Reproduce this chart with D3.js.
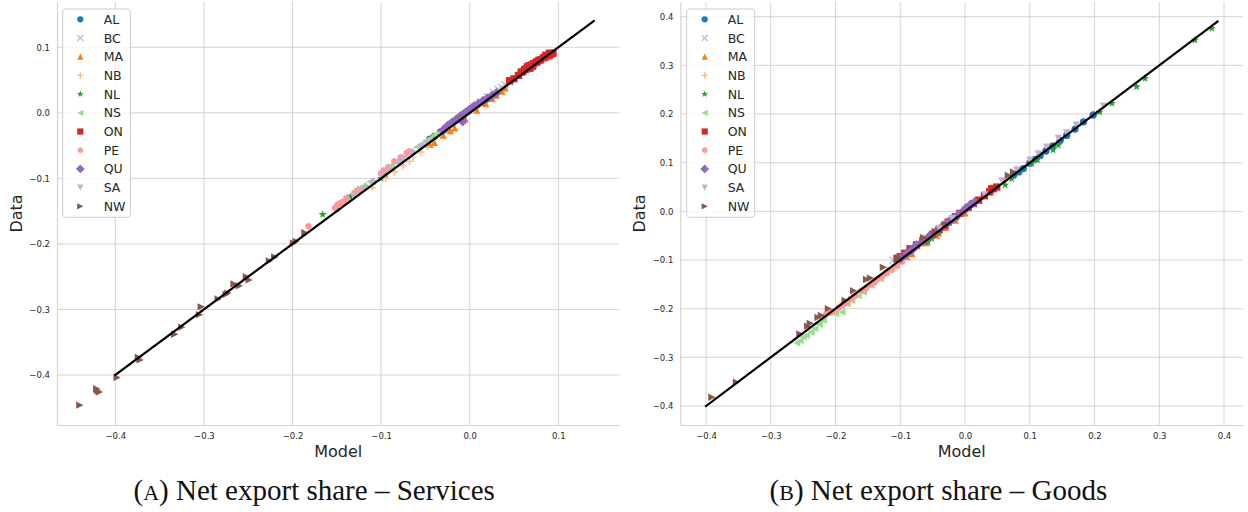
<!DOCTYPE html>
<html>
<head>
<meta charset="utf-8">
<script src="https://cdn.jsdelivr.net/npm/d3@7"></script>
<style>
  body { margin: 0; background: #ffffff; }
  svg { display: block; }
</style>
</head>
<body>
<svg id="fig" width="1248" height="512"></svg>
<script>
// Provinces, colours (tab20) and marker shapes, in legend order
const provinces = ["AL", "BC", "MA", "NB", "NL", "NS", "ON", "PE", "QU", "SA", "NW"];
const colors = ["#1f77b4", "#aec7e8", "#ff7f0e", "#ffbb78", "#2ca02c", "#98df8a",
                "#d62728", "#ff9896", "#9467bd", "#c5b0d5", "#8c564b"];
const markers = ["o", "x", "^", "+", "*", "<", "s", "h", "D", "v", ">"];

// Services: [model, data] pairs per province
const svcAL = [[-0.045,-0.040],[-0.040,-0.036],[-0.033,-0.029],[-0.028,-0.024],[-0.021,-0.016],
               [-0.015,-0.011],[-0.010,-0.005],[-0.005,0.000],[0.000,0.005],[0.004,0.008]];
const svcBC = [[0.005,0.009],[0.012,0.016],[0.020,0.024],[0.027,0.031],[0.032,0.036],
               [0.036,0.039],[0.040,0.043],[0.045,0.047]];
const svcMA = [[-0.045,-0.048],[-0.040,-0.045],[-0.030,-0.034],[-0.022,-0.027],[-0.017,-0.023],
               [-0.005,-0.009],[0.008,0.004],[0.018,0.014],[0.025,0.022],[0.030,0.027],
               [0.036,0.033],[0.040,0.038]];
const svcNB = [[-0.110,-0.114],[-0.095,-0.100],[-0.085,-0.090],[-0.075,-0.081],[-0.068,-0.074],
               [-0.064,-0.068],[-0.055,-0.060],[-0.048,-0.052]];
const svcNL = [[-0.166,-0.155],[-0.150,-0.147],[-0.138,-0.130],[-0.135,-0.128],[-0.126,-0.117],
               [-0.118,-0.112],[-0.109,-0.105],[-0.100,-0.100],[-0.095,-0.094]];
const svcNS = [[-0.120,-0.113],[-0.113,-0.105],[-0.095,-0.088],[-0.088,-0.080],[-0.080,-0.072],
               [-0.073,-0.065],[-0.067,-0.059],[-0.060,-0.052],[-0.055,-0.048],[-0.050,-0.043],
               [-0.045,-0.039],[-0.040,-0.034],[-0.035,-0.030],[-0.030,-0.026]];
const svcON = [[0.045,0.049],[0.050,0.052],[0.055,0.057],[0.058,0.062],[0.060,0.063],
               [0.062,0.066],[0.065,0.070],[0.067,0.072],[0.068,0.068],[0.070,0.073],
               [0.072,0.075],[0.075,0.077],[0.078,0.080],[0.080,0.081],[0.083,0.084],
               [0.085,0.085],[0.088,0.087],[0.090,0.088],[0.092,0.090],[0.094,0.091],
               [0.064,0.067],[0.071,0.071],[0.076,0.078],[0.086,0.088],[0.090,0.091]];
const svcPE = [[-0.182,-0.173],[-0.152,-0.145],[-0.149,-0.140],[-0.145,-0.137],[-0.139,-0.130],
               [-0.130,-0.122],[-0.125,-0.118],[-0.100,-0.092],[-0.092,-0.083],[-0.085,-0.074],
               [-0.078,-0.068],[-0.071,-0.061],[-0.068,-0.059],[-0.142,-0.135],[-0.097,-0.088]];
const svcQU = [[-0.030,-0.027],[-0.025,-0.020],[-0.020,-0.015],[-0.015,-0.010],[-0.010,-0.005],
               [-0.008,-0.013],[-0.005,0.000],[0.000,0.005],[0.005,0.010],[0.010,0.014],
               [0.015,0.018],[0.020,0.022],[0.025,0.026],[0.030,0.030]];
const svcSA = [[-0.130,-0.127],[-0.120,-0.116],[-0.110,-0.108],[-0.100,-0.097],[-0.090,-0.088],
               [-0.080,-0.078],[-0.075,-0.072],[-0.065,-0.063],[-0.055,-0.053],[-0.048,-0.047]];
const svcNW = [[-0.440,-0.446],[-0.420,-0.424],[-0.421,-0.421],[-0.418,-0.426],[-0.398,-0.404],
               [-0.372,-0.377],[-0.374,-0.373],[-0.333,-0.338],[-0.325,-0.327],[-0.305,-0.308],
               [-0.303,-0.296],[-0.284,-0.284],[-0.275,-0.277],[-0.273,-0.275],[-0.266,-0.261],
               [-0.260,-0.264],[-0.252,-0.250],[-0.249,-0.255],[-0.226,-0.226],[-0.220,-0.220],
               [-0.199,-0.199],[-0.196,-0.196],[-0.186,-0.183]];

// Goods: [model, data] pairs per province
const gdsAL = [[0.075,0.074],[0.083,0.081],[0.090,0.088],[0.100,0.099],[0.108,0.107],
               [0.116,0.115],[0.125,0.124],[0.135,0.134],[0.147,0.146],[0.157,0.156],
               [0.170,0.169],[0.183,0.184],[0.198,0.198]];
const gdsBC = [[-0.111,-0.101],[-0.105,-0.098],[-0.060,-0.055],[-0.030,-0.027],[0.000,0.004]];
const gdsMA = [[-0.090,-0.093],[-0.082,-0.087],[-0.060,-0.064],[-0.044,-0.049],[-0.030,-0.033],
               [-0.015,-0.018],[0.000,-0.003]];
const gdsNB = [[-0.190,-0.188],[-0.175,-0.176],[-0.140,-0.142],[-0.120,-0.122],[-0.090,-0.090],
               [-0.070,-0.072]];
const gdsNL = [[-0.057,-0.063],[-0.051,-0.056],[-0.040,-0.046],[0.062,0.054],[0.072,0.067],
               [0.103,0.098],[0.112,0.106],[0.136,0.126],[0.144,0.136],[0.208,0.204],
               [0.227,0.222],[0.265,0.256],[0.278,0.273],[0.355,0.352],[0.381,0.376]];
const gdsNS = [[-0.260,-0.270],[-0.255,-0.266],[-0.250,-0.258],[-0.245,-0.255],[-0.238,-0.248],
               [-0.232,-0.241],[-0.225,-0.232],[-0.219,-0.224],[-0.200,-0.210],[-0.190,-0.207],
               [-0.182,-0.190],[-0.175,-0.183],[-0.165,-0.173],[-0.157,-0.166],[-0.145,-0.152],
               [-0.131,-0.139]];
const gdsON = [[-0.105,-0.097],[-0.100,-0.093],[-0.093,-0.086],[-0.085,-0.077],[-0.075,-0.069],
               [-0.065,-0.060],[-0.050,-0.047],[-0.040,-0.037],[-0.031,-0.029],[-0.026,-0.022],
               [-0.015,-0.011],[-0.008,-0.004],[0.005,0.008],[0.013,0.016],[0.021,0.023],
               [0.030,0.032],[0.038,0.040],[0.044,0.047],[0.049,0.050],[0.041,0.046]];
const gdsPE = [[-0.215,-0.212],[-0.208,-0.208],[-0.203,-0.205],[-0.195,-0.198],[-0.188,-0.192],
               [-0.183,-0.187],[-0.176,-0.180],[-0.170,-0.174],[-0.160,-0.163],[-0.153,-0.158],
               [-0.147,-0.151],[-0.140,-0.146],[-0.135,-0.139],[-0.128,-0.133],[-0.121,-0.127],
               [-0.113,-0.120],[-0.105,-0.112],[-0.097,-0.103]];
const gdsQU = [[-0.100,-0.097],[-0.090,-0.087],[-0.082,-0.079],[-0.075,-0.070],[-0.065,-0.061],
               [-0.055,-0.051],[-0.045,-0.042],[-0.035,-0.031],[-0.025,-0.021],[-0.018,-0.015],
               [-0.010,-0.007],[0.000,0.004],[0.008,0.013],[0.015,0.019]];
const gdsSA = [[-0.040,-0.035],[-0.020,-0.015],[0.030,0.034],[0.057,0.062],[0.059,0.062],
               [0.080,0.085],[0.100,0.105],[0.113,0.118],[0.126,0.132],[0.144,0.150],
               [0.157,0.161],[0.172,0.177],[0.214,0.216]];
const gdsNW = [[-0.391,-0.382],[-0.353,-0.351],[-0.255,-0.252],[-0.243,-0.236],[-0.239,-0.230],
               [-0.227,-0.218],[-0.222,-0.214],[-0.211,-0.200],[-0.185,-0.183],[-0.172,-0.163],
               [-0.152,-0.140],[-0.146,-0.137],[-0.126,-0.115],[-0.103,-0.095],[-0.064,-0.054],
               [-0.046,-0.041],[-0.030,-0.027],[0.067,0.074],[0.075,0.081]];

// 45-degree reference line extents
const svcLine = [-0.4, 0.14];
const gdsLine = [-0.4, 0.39];

// Axis limits and tick values
const svcXLim = [-0.4658, 0.1688];
const svcYLim = [-0.4763, 0.1691];
const gdsXLim = [-0.4397, 0.4293];
const gdsYLim = [-0.4390, 0.4302];
const svcTicks = [-0.4, -0.3, -0.2, -0.1, 0.0, 0.1];
const gdsTicks = [-0.4, -0.3, -0.2, -0.1, 0.0, 0.1, 0.2, 0.3, 0.4];

// Captions
const captions = [["A", "Net export share \u2013 Services"], ["B", "Net export share \u2013 Goods"]];

const panels = [
  { series: [svcAL, svcBC, svcMA, svcNB, svcNL, svcNS, svcON, svcPE, svcQU, svcSA, svcNW],
    line: svcLine, xlim: svcXLim, ylim: svcYLim, xticks: svcTicks, yticks: svcTicks,
    box: { left: 57, right: 619.3, top: 2, bottom: 425 },
    legend: { x: 62.7, y: 9, w: 67.6, h: 208.3, mx: 80.3, tx: 103.7 },
    dataX: 21.7, captionX: 314.2, caption: captions[0] },
  { series: [gdsAL, gdsBC, gdsMA, gdsNB, gdsNL, gdsNS, gdsON, gdsPE, gdsQU, gdsSA, gdsNW],
    line: gdsLine, xlim: gdsXLim, ylim: gdsYLim, xticks: gdsTicks, yticks: gdsTicks,
    box: { left: 680.3, right: 1243, top: 2, bottom: 425 },
    legend: { x: 686.7, y: 9, w: 68, h: 208.3, mx: 704.7, tx: 727.7 },
    dataX: 645, captionX: 938.4, caption: captions[1] }
];

const gridColor = "#d4d4d4";
const textColor = "#262626";
const tickFmt = d => d3.format(".1f")(d).replace("-", "\u2212");

// Marker outlines in the style of matplotlib marker codes; ms is the marker size in px
function markerPath(m, ms) {
  const h = ms / 2;
  switch (m) {
    case "o": return d3.symbol(d3.symbolCircle, Math.PI * h * h)();
    case "s": return `M${-h},${-h}H${h}V${h}H${-h}Z`;
    case "D": { const d = h * Math.SQRT2; return `M0,${-d}L${d},0L0,${d}L${-d},0Z`; }
    case "^": return `M0,${-h}L${h},${h}L${-h},${h}Z`;
    case "v": return `M0,${h}L${h},${-h}L${-h},${-h}Z`;
    case "<": return `M${-h},0L${h},${-h}L${h},${h}Z`;
    case ">": return `M${h},0L${-h},${-h}L${-h},${h}Z`;
    case "h": {
      const pts = d3.range(6).map(k => {
        const a = (-90 + k * 60) * Math.PI / 180;
        return [h * Math.cos(a), h * Math.sin(a)];
      });
      return "M" + pts.map(p => p.join(",")).join("L") + "Z";
    }
    case "*": {
      const R = h * 1.15;
      const pts = d3.range(10).map(k => {
        const r = k % 2 === 0 ? R : R * 0.42;
        const a = (-90 + k * 36) * Math.PI / 180;
        return [r * Math.cos(a), r * Math.sin(a)];
      });
      return "M" + pts.map(p => p.join(",")).join("L") + "Z";
    }
    case "x": return `M${-h},${-h}L${h},${h}M${-h},${h}L${h},${-h}`;
    case "+": return `M${-h},0L${h},0M0,${-h}L0,${h}`;
  }
}
const strokeOnly = m => m === "x" || m === "+";

function styleMarker(sel, m, color) {
  sel.attr("fill", strokeOnly(m) ? "none" : color)
    .attr("stroke", strokeOnly(m) ? color : "none")
    .attr("stroke-width", strokeOnly(m) ? 1.4 : 0);
}

const svg = d3.select("#fig");
svg.append("rect").attr("width", 1248).attr("height", 512).attr("fill", "#ffffff");

panels.forEach(p => {
  const b = p.box;
  const x = d3.scaleLinear().domain(p.xlim).range([b.left, b.right]);
  const y = d3.scaleLinear().domain(p.ylim).range([b.bottom, b.top]);
  const g = svg.append("g");

  // grid
  g.append("g").selectAll("line").data(p.xticks).join("line")
    .attr("x1", d => x(d)).attr("x2", d => x(d))
    .attr("y1", b.top).attr("y2", b.bottom)
    .attr("stroke", gridColor).attr("stroke-width", 1);
  g.append("g").selectAll("line").data(p.yticks).join("line")
    .attr("x1", b.left).attr("x2", b.right)
    .attr("y1", d => y(d)).attr("y2", d => y(d))
    .attr("stroke", gridColor).attr("stroke-width", 1);

  // axes: left and bottom spines only, no tick marks
  const xAxis = d3.axisBottom(x).tickValues(p.xticks).tickFormat(tickFmt).tickSize(0).tickPadding(8);
  const yAxis = d3.axisLeft(y).tickValues(p.yticks).tickFormat(tickFmt).tickSize(0).tickPadding(7);
  const gx = g.append("g").attr("transform", `translate(0,${b.bottom})`).call(xAxis);
  const gy = g.append("g").attr("transform", `translate(${b.left},0)`).call(yAxis);
  [gx, gy].forEach(a => {
    a.select(".domain").attr("stroke", gridColor).attr("stroke-width", 1.2);
    a.selectAll("text").attr("fill", textColor)
      .style("font-family", "'DejaVu Sans', sans-serif").style("font-size", "8.5px");
  });

  // scatter points
  p.series.forEach((pts, i) => {
    const m = markers[i];
    g.append("g").selectAll("path").data(pts).join("path")
      .attr("transform", d => `translate(${x(d[0])},${y(d[1])})`)
      .attr("d", markerPath(m, 7.3))
      .call(styleMarker, m, colors[i]);
  });

  // 45-degree line
  g.append("line")
    .attr("x1", x(p.line[0])).attr("y1", y(p.line[0]))
    .attr("x2", x(p.line[1])).attr("y2", y(p.line[1]))
    .attr("stroke", "#000000").attr("stroke-width", 2.2).attr("stroke-linecap", "square");

  // axis titles
  g.append("text").text("Model")
    .attr("x", (b.left + b.right) / 2).attr("y", 456.5)
    .attr("text-anchor", "middle").attr("fill", textColor)
    .style("font-family", "'DejaVu Sans', sans-serif").style("font-size", "16px");
  g.append("text").text("Data")
    .attr("transform", `translate(${p.dataX},${(b.top + b.bottom) / 2}) rotate(-90)`)
    .attr("text-anchor", "middle").attr("fill", textColor)
    .style("font-family", "'DejaVu Sans', sans-serif").style("font-size", "16px");

  // legend
  const L = p.legend;
  const lg = g.append("g");
  lg.append("rect").attr("x", L.x).attr("y", L.y).attr("width", L.w).attr("height", L.h)
    .attr("rx", 3).attr("fill", "#ffffff").attr("fill-opacity", 0.8)
    .attr("stroke", "#cccccc").attr("stroke-width", 1);
  provinces.forEach((name, i) => {
    const cy = L.y + 10.3 + i * 18.7;
    lg.append("path").attr("transform", `translate(${L.mx},${cy})`)
      .attr("d", markerPath(markers[i], 6.2))
      .call(styleMarker, markers[i], colors[i]);
    lg.append("text").text(name).attr("x", L.tx).attr("y", cy).attr("dy", "0.36em")
      .attr("fill", textColor)
      .style("font-family", "'DejaVu Sans', sans-serif").style("font-size", "12.5px");
  });

  // sub-caption with small-caps letter
  const cap = svg.append("text").attr("x", p.captionX).attr("y", 500)
    .attr("text-anchor", "middle").attr("fill", "#111111")
    .style("font-family", "'Liberation Serif', 'Times New Roman', serif").style("font-size", "29px");
  cap.append("tspan").text("(");
  cap.append("tspan").text(p.caption[0]).style("font-size", "22px");
  cap.append("tspan").text(") " + p.caption[1]);
});
</script>
</body>
</html>
